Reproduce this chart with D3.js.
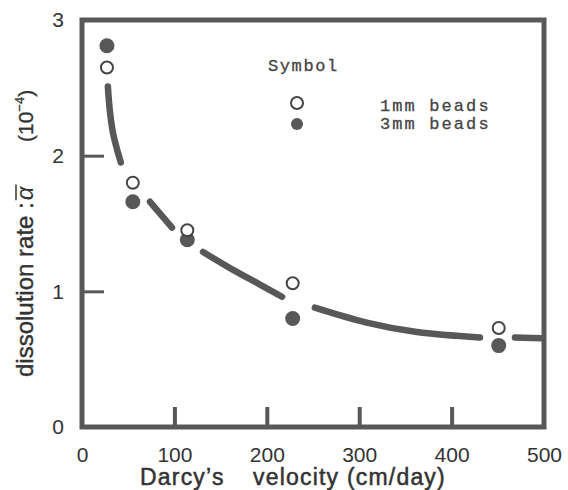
<!DOCTYPE html>
<html>
<head>
<meta charset="utf-8">
<script src="https://cdn.jsdelivr.net/npm/d3@7"></script>
<style>
  body { margin: 0; background: #fff; }
  svg { display: block; }
</style>
</head>
<body>
<div id="chart"></div>
<script>
// chart size
var width = 568;
var height = 490;

// data
var velocity = [27, 55, 114, 228, 451];          // Darcy's velocity (cm/day)
var rate1mm = [2.65, 1.80, 1.45, 1.06, 0.73];    // open circles
var rate3mm = [2.81, 1.66, 1.38, 0.80, 0.60];    // filled circles

// the hand drawn fit curve, broken where it passes the points
var curveSegments = [
  [[28, 2.51], [30, 2.34], [33.5, 2.17], [39, 2.02], [42, 1.95]],
  [[73.6, 1.66], [97.4, 1.47]],
  [[131, 1.29], [163, 1.16], [192.6, 1.05], [216.5, 0.96]],
  [[252, 0.88], [308, 0.77], [362.5, 0.70], [430.7, 0.66]],
  [[468.6, 0.66], [497, 0.655]]
];

var xTicks = [0, 100, 200, 300, 400, 500];
var yTicks = [0, 1, 2, 3];
var xInnerTicks = [100, 200, 300, 400];
var yInnerTicks = [1, 2];

var legendLabels = ["1mm beads", "3mm beads"];

var ink = "#585858";
var textInk = "#333";

var svg = d3.select("#chart")
  .append("svg")
  .attr("width", width)
  .attr("height", height);

// scales
var x = d3.scaleLinear().domain([0, 500]).range([82, 544]);
var y = d3.scaleLinear().domain([0, 3]).range([427, 20]);

// frame
svg.append("rect")
  .attr("x", x(0))
  .attr("y", y(3))
  .attr("width", x(500) - x(0))
  .attr("height", y(0) - y(3))
  .attr("fill", "none")
  .attr("stroke", ink)
  .attr("stroke-width", 5);

// inner ticks (bottom, pointing up)
var xIn = svg.append("g")
  .attr("transform", "translate(0," + y(0) + ")")
  .call(d3.axisTop(x).tickValues(xInnerTicks).tickSize(20).tickFormat(""));
xIn.select(".domain").remove();
xIn.selectAll("line").attr("stroke", ink).attr("stroke-width", 4);

// inner ticks (left, pointing right)
var yIn = svg.append("g")
  .attr("transform", "translate(" + x(0) + ",0)")
  .call(d3.axisRight(y).tickValues(yInnerTicks).tickSize(22).tickFormat(""));
yIn.select(".domain").remove();
yIn.selectAll("line").attr("stroke", ink).attr("stroke-width", 3);

// tick labels
var sans = "'Liberation Sans', Arial, sans-serif";
var xAxis = svg.append("g")
  .attr("transform", "translate(0," + y(0) + ")")
  .call(d3.axisBottom(x).tickValues(xTicks).tickSize(0).tickPadding(20).tickFormat(d3.format("d")));
xAxis.select(".domain").remove();
xAxis.selectAll("text")
  .attr("font-family", sans)
  .attr("font-size", 21)
  .attr("fill", textInk);

var yAxis = svg.append("g")
  .attr("transform", "translate(" + x(0) + ",0)")
  .call(d3.axisLeft(y).tickValues(yTicks).tickSize(0).tickPadding(18).tickFormat(d3.format("d")));
yAxis.select(".domain").remove();
yAxis.selectAll("text")
  .attr("font-family", sans)
  .attr("font-size", 21)
  .attr("fill", textInk);

// fit curve
var line = d3.line()
  .x(function(d) { return x(d[0]); })
  .y(function(d) { return y(d[1]); })
  .curve(d3.curveCatmullRom.alpha(0.5));

svg.selectAll(".fit")
  .data(curveSegments)
  .enter()
  .append("path")
  .attr("class", "fit")
  .attr("d", line)
  .attr("fill", "none")
  .attr("stroke", ink)
  .attr("stroke-width", 6.5)
  .attr("stroke-linecap", "round");

// points
svg.selectAll(".p3")
  .data(velocity)
  .enter()
  .append("circle")
  .attr("class", "p3")
  .attr("cx", function(d) { return x(d); })
  .attr("cy", function(d, i) { return y(rate3mm[i]); })
  .attr("r", 7.5)
  .attr("fill", ink);

svg.selectAll(".p1")
  .data(velocity)
  .enter()
  .append("circle")
  .attr("class", "p1")
  .attr("cx", function(d) { return x(d); })
  .attr("cy", function(d, i) { return y(rate1mm[i]); })
  .attr("r", 6)
  .attr("fill", "#fff")
  .attr("stroke", "#444")
  .attr("stroke-width", 2);

// legend
var mono = "'Liberation Mono', 'Courier New', monospace";
svg.append("text")
  .attr("x", 268)
  .attr("y", 71)
  .attr("font-family", mono)
  .attr("font-size", 17)
  .attr("letter-spacing", 1.6)
  .attr("fill", "#444")
  .attr("stroke", "#444")
  .attr("stroke-width", 0.3)
  .text("Symbol");

svg.append("circle")
  .attr("cx", 297).attr("cy", 103).attr("r", 6)
  .attr("fill", "#fff").attr("stroke", "#444").attr("stroke-width", 2);
svg.append("circle")
  .attr("cx", 297).attr("cy", 124).attr("r", 6)
  .attr("fill", ink);

svg.selectAll(".leg")
  .data(legendLabels)
  .enter()
  .append("text")
  .attr("class", "leg")
  .attr("x", 380)
  .attr("y", function(d, i) { return 111 + i * 18; })
  .attr("font-family", mono)
  .attr("font-size", 17)
  .attr("letter-spacing", 2.1)
  .attr("fill", "#444")
  .attr("stroke", "#444")
  .attr("stroke-width", 0.3)
  .text(function(d) { return d; });

// axis titles
svg.append("text")
  .attr("x", 140)
  .attr("y", 485)
  .attr("font-family", sans)
  .attr("font-size", 23)
  .attr("letter-spacing", 1.2)
  .attr("fill", textInk)
  .attr("stroke", textInk)
  .attr("stroke-width", 0.5)
  .text("Darcy\u2019s");
svg.append("text")
  .attr("x", 253)
  .attr("y", 485)
  .attr("font-family", sans)
  .attr("font-size", 23)
  .attr("letter-spacing", 1.2)
  .attr("fill", textInk)
  .attr("stroke", textInk)
  .attr("stroke-width", 0.5)
  .text("velocity (cm/day)");

var yTitle = svg.append("g")
  .attr("transform", "translate(33,377) rotate(-90)");
var yt = yTitle.append("text")
  .attr("font-family", sans)
  .attr("font-size", 24)
  .attr("fill", textInk)
  .attr("stroke", textInk)
  .attr("stroke-width", 0.4)
  .text("dissolution rate :");
var tl = yt.node().getComputedTextLength();
var alpha = yTitle.append("text")
  .attr("x", tl + 2)
  .attr("font-family", sans)
  .attr("font-size", 24)
  .attr("font-style", "italic")
  .attr("fill", textInk)
  .text("\u03b1");
var al = alpha.node().getComputedTextLength();
yTitle.append("line")
  .attr("x1", tl + 2).attr("x2", tl + 4 + al)
  .attr("y1", -17).attr("y2", -17)
  .attr("stroke", textInk).attr("stroke-width", 1.5);

var pow = yTitle.append("text")
  .attr("x", 235)
  .attr("font-family", sans)
  .attr("font-size", 21)
  .attr("fill", textInk)
  .attr("stroke", textInk)
  .attr("stroke-width", 0.3);
pow.append("tspan").text("(10");
pow.append("tspan").attr("dy", -9).attr("font-size", 13).text("\u22124");
pow.append("tspan").attr("dy", 9).text(")");
</script>
</body>
</html>
